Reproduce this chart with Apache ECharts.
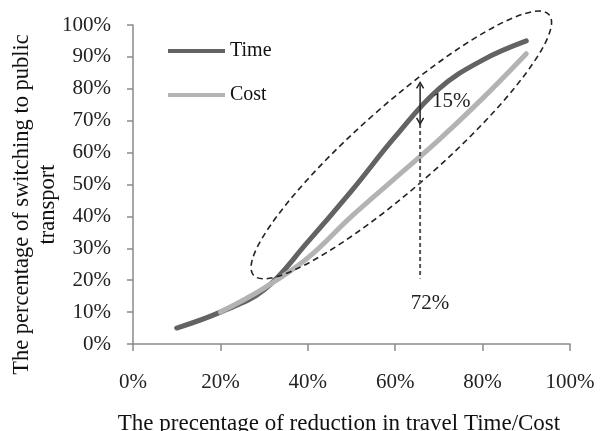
<!DOCTYPE html>
<html>
<head>
<meta charset="utf-8">
<script src="https://cdn.jsdelivr.net/npm/echarts@6/dist/echarts.min.js"></script>
<style>
html,body{margin:0;padding:0;background:#fff;}
#chart{width:600px;height:431px;}
</style>
</head>
<body>
<div id="chart"></div>
<script>
var xValues = [10, 20, 30, 40, 50, 60, 70, 80, 90];
var timeValues = [5, 10, 17, 32, 48, 65, 80, 89, 95];
var costValues = [null, 10, 17.5, 27, 40, 52, 64, 77, 91];
var seriesNames = ['Time', 'Cost'];
var xAxisTitle = 'The precentage of reduction in travel Time/Cost';
var yAxisTitle = 'The percentage of switching to public\ntransport';
var gapLabel = '15%';
var markLabel = '72%';
// annotation anchors in data units
var gapX = 65.7, gapTop = 82, gapBottom = 69;   // double arrow
var dashBottom = 20.5;                            // dashed line end
var ellipseCenter = [61.4, 62.4];

var FONT = '"Liberation Serif", "Times New Roman", serif';
var chart = echarts.init(document.getElementById('chart'));

function pairs(vals) {
  return xValues.map(function (x, i) { return vals[i] == null ? null : [x, vals[i]]; })
    .filter(function (p) { return p; });
}

var option = {
  animation: false,
  backgroundColor: '#fff',
  grid: {left: 133, right: 30, top: 25, bottom: 87, containLabel: false, outerBoundsMode: 'none'},
  legend: {
    orient: 'vertical', left: 163, top: 36,
    itemWidth: 57, itemHeight: 4, itemGap: 24,
    icon: 'rect',
    textStyle: {fontFamily: FONT, fontSize: 20, color: '#111', padding: [0, 0, 0, 0]},
    data: seriesNames
  },
  xAxis: {
    type: 'value', min: 0, max: 100, interval: 20,
    name: xAxisTitle, nameLocation: 'middle', nameGap: 68, nameMoveOverlap: false,
    nameTextStyle: {fontFamily: FONT, fontSize: 23, color: '#111', padding: [0, 25, 0, 0]},
    axisLine: {show: true, lineStyle: {color: '#8a8a8a', width: 1.5}},
    axisTick: {show: true, length: 7, lineStyle: {color: '#8a8a8a', width: 1.5}},
    axisLabel: {formatter: '{value}%', fontFamily: FONT, fontSize: 21, color: '#222', margin: 38, verticalAlign: 'middle'},
    splitLine: {show: false}
  },
  yAxis: {
    type: 'value', min: 0, max: 100, interval: 10,
    name: yAxisTitle, nameLocation: 'middle', nameGap: 72, nameRotate: 90, nameMoveOverlap: false,
    nameTextStyle: {fontFamily: FONT, fontSize: 22.5, color: '#111', lineHeight: 26, padding: [0, 40, 0, 0]},
    axisLine: {show: true, lineStyle: {color: '#8a8a8a', width: 1.5}},
    axisTick: {show: true, length: 6, lineStyle: {color: '#8a8a8a', width: 1.5}},
    axisLabel: {formatter: '{value}%', fontFamily: FONT, fontSize: 21, color: '#222', margin: 22},
    splitLine: {show: false}
  },
  series: [
    {
      name: seriesNames[0], type: 'line', data: pairs(timeValues), smooth: 0.4,
      showSymbol: false, symbol: 'none', z: 2,
      lineStyle: {color: '#636363', width: 5, cap: 'round'},
      itemStyle: {color: '#636363'}
    },
    {
      name: seriesNames[1], type: 'line', data: pairs(costValues), smooth: 0.4,
      showSymbol: false, symbol: 'none', z: 3,
      lineStyle: {color: '#b3b3b3', width: 5, cap: 'round'},
      itemStyle: {color: '#b3b3b3'}
    }
  ]
};
chart.setOption(option);

function px(x, y) { return chart.convertToPixel({gridIndex: 0}, [x, y]); }
var c = px(ellipseCenter[0], ellipseCenter[1]);
var aTop = px(gapX, gapTop), aBot = px(gapX, gapBottom), dBot = px(gapX, dashBottom);
var ah = 6, aw = 3.5;
chart.setOption({
  graphic: [
    {type: 'ellipse', shape: {cx: 0, cy: 0, rx: 197, ry: 41}, x: c[0], y: c[1],
     rotation: 41.4 * Math.PI / 180,
     style: {fill: 'none', stroke: '#222', lineWidth: 1.6, lineDash: [6, 4]}, z: 10},
    {type: 'line', shape: {x1: aBot[0], y1: aBot[1], x2: dBot[0], y2: dBot[1]},
     style: {stroke: '#555', lineWidth: 2, lineDash: [4, 3]}, z: 10},
    {type: 'line', shape: {x1: aTop[0], y1: aTop[1] + 2, x2: aBot[0], y2: aBot[1] - 2},
     style: {stroke: '#222', lineWidth: 1.5}, z: 10},
    {type: 'polyline', shape: {points: [[aTop[0] - aw, aTop[1] + ah], [aTop[0], aTop[1]], [aTop[0] + aw, aTop[1] + ah]]},
     style: {stroke: '#222', fill: 'none', lineWidth: 1.5}, z: 10},
    {type: 'polyline', shape: {points: [[aBot[0] - aw, aBot[1] - ah], [aBot[0], aBot[1]], [aBot[0] + aw, aBot[1] - ah]]},
     style: {stroke: '#222', fill: 'none', lineWidth: 1.5}, z: 10},
    {type: 'text', x: aTop[0] + 12, y: (aTop[1] + aBot[1]) / 2 - 2,
     style: {text: gapLabel, fontFamily: FONT, fontSize: 21, fill: '#222', verticalAlign: 'middle', align: 'left'}, z: 10},
    {type: 'text', x: dBot[0] + 10, y: dBot[1] + 25,
     style: {text: markLabel, fontFamily: FONT, fontSize: 21, fill: '#222', verticalAlign: 'middle', align: 'center'}, z: 10}
  ]
});
</script>
</body>
</html>
